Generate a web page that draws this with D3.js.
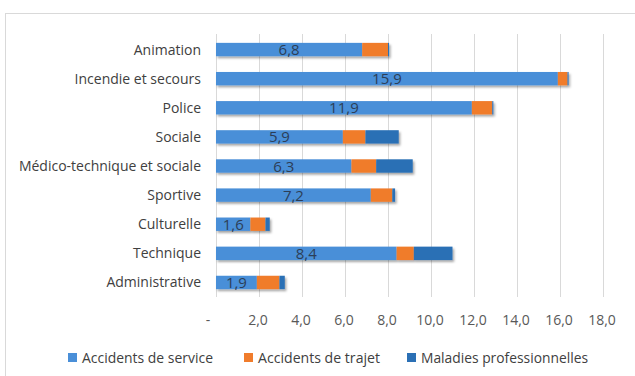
<!DOCTYPE html>
<html>
<head>
<meta charset="utf-8">
<script src="https://cdn.jsdelivr.net/npm/d3@7"></script>
<style>
  html, body { margin: 0; padding: 0; background: #fff; }
  svg { display: block; }
  text { font-family: "Open Sans", "Noto Sans", sans-serif; }
</style>
</head>
<body>
<svg id="chart" width="635" height="376"></svg>
<script>
// Filières (top to bottom)
const categories = [
  "Animation",
  "Incendie et secours",
  "Police",
  "Sociale",
  "Médico-technique et sociale",
  "Sportive",
  "Culturelle",
  "Technique",
  "Administrative"
];
// Indices par type d'accident / maladie
const accidentsService = [6.8, 15.9, 11.9, 5.9, 6.3, 7.2, 1.6, 8.4, 1.9];
const accidentsTrajet  = [1.2, 0.45, 0.95, 1.05, 1.15, 1.0, 0.7, 0.8, 1.05];
const maladiesPro      = [0.05, 0.05, 0.05, 1.55, 1.7, 0.13, 0.2, 1.8, 0.25];
const seriesNames = ["Accidents de service", "Accidents de trajet", "Maladies professionnelles"];
const xTicks = [0, 2, 4, 6, 8, 10, 12, 14, 16, 18];

const colors = ["#4a8fd8", "#f07c2c", "#2b70b5"];

const svg = d3.select("#chart");

// chart frame
svg.append("rect")
  .attr("x", 5.5).attr("y", 13.5)
  .attr("width", 640).attr("height", 400)
  .attr("fill", "#fff").attr("stroke", "#d9d9d9");

const defs = svg.append("defs");
const f = defs.append("filter").attr("id", "shadow")
  .attr("x", "-5%").attr("y", "-30%").attr("width", "115%").attr("height", "180%");
f.append("feDropShadow").attr("dx", 1.5).attr("dy", 2).attr("stdDeviation", 1.3)
  .attr("flood-color", "#000").attr("flood-opacity", 0.35);

const x = d3.scaleLinear().domain([0, 18]).range([216, 603]);
const y = d3.scaleBand().domain(categories).range([35, 297]).paddingInner(0.54).paddingOuter(0.27);

// gridlines
svg.append("g")
  .selectAll("line").data(xTicks).join("line")
  .attr("x1", d => x(d) + 0.5).attr("x2", d => x(d) + 0.5)
  .attr("y1", 34).attr("y2", 297)
  .attr("stroke", "#d9d9d9").attr("stroke-width", 1);

// tick labels
const fmt = d => d === 0 ? "-" : d.toFixed(1).replace(".", ",");
svg.append("g")
  .selectAll("text").data(xTicks).join("text")
  .attr("x", d => d === 0 ? x(d) - 8 : x(d) - 1)
  .attr("y", 325)
  .attr("text-anchor", "middle")
  .attr("fill", "#595959")
  .attr("font-size", 14)
  .text(fmt);

// category labels
svg.append("g")
  .selectAll("text").data(categories).join("text")
  .attr("x", 201)
  .attr("y", d => y(d) + y.bandwidth() / 2 + 5)
  .attr("text-anchor", "end")
  .attr("fill", "#404040")
  .attr("font-size", 14)
  .text(d => d);

// stacked bars
const rows = categories.map((c, i) => ({
  cat: c,
  "Accidents de service": accidentsService[i],
  "Accidents de trajet": accidentsTrajet[i],
  "Maladies professionnelles": maladiesPro[i]
}));
const stacked = d3.stack().keys(seriesNames)(rows);

const barG = svg.append("g");
categories.forEach((c, i) => {
  const g = barG.append("g").attr("filter", "url(#shadow)");
  stacked.forEach((s, k) => {
    const d = s[i];
    g.append("rect")
      .attr("x", x(d[0]))
      .attr("y", y(c))
      .attr("width", Math.max(0, x(d[1]) - x(d[0])))
      .attr("height", y.bandwidth())
      .attr("fill", colors[k]);
  });
});

// value labels on the service segment
svg.append("g")
  .selectAll("text").data(rows).join("text")
  .attr("x", d => (x(0) + x(d["Accidents de service"])) / 2)
  .attr("y", d => y(d.cat) + y.bandwidth() / 2 + 5.5)
  .attr("text-anchor", "middle")
  .attr("fill", "#2c3e57")
  .attr("font-size", 15)
  .text(d => d["Accidents de service"].toFixed(1).replace(".", ","));

// legend
const legendX = [68, 244, 407];
const legendW = [131, 122, 167];
const lg = svg.append("g");
seriesNames.forEach((n, k) => {
  lg.append("rect").attr("x", legendX[k]).attr("y", 353).attr("width", 9).attr("height", 9).attr("fill", colors[k]);
  lg.append("text").attr("x", legendX[k] + 14).attr("y", 363)
    .attr("fill", "#404040").attr("font-size", 14)
    .attr("textLength", legendW[k]).attr("lengthAdjust", "spacingAndGlyphs")
    .text(n);
});
</script>
</body>
</html>
